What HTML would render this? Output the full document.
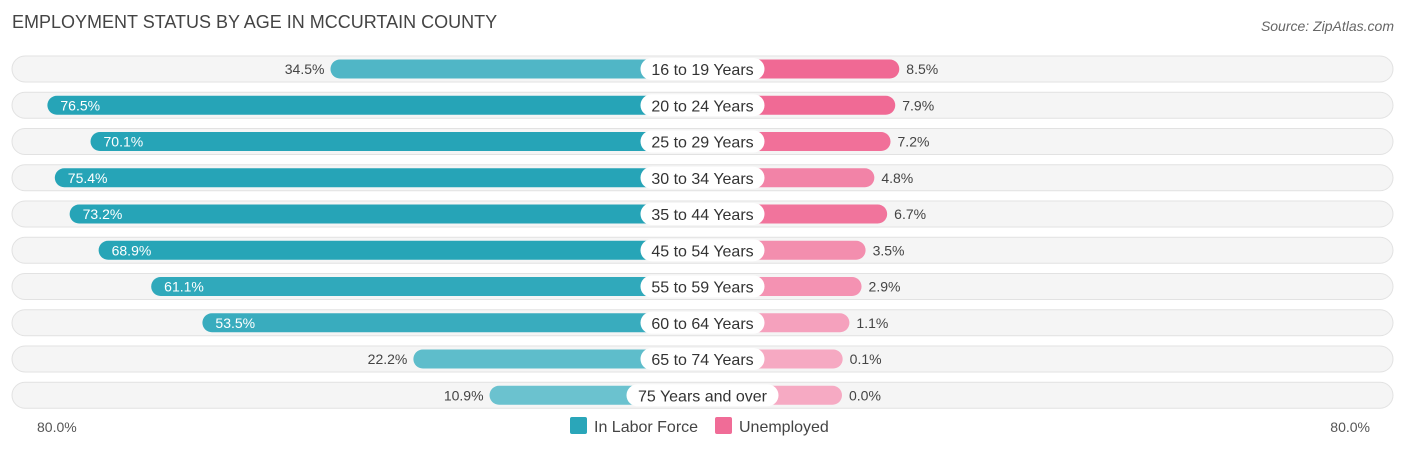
<!DOCTYPE html>
<html><head><meta charset="utf-8"><style>
body{margin:0;background:#fff;font-family:"Liberation Sans",sans-serif;}
svg text{font-family:"Liberation Sans",sans-serif;}
</style></head><body>
<svg width="1406" height="451">
<text x="12" y="28" font-size="18" fill="#444">EMPLOYMENT STATUS BY AGE IN MCCURTAIN COUNTY</text>
<text x="1394" y="31" font-size="14" fill="#666" font-style="italic" text-anchor="end">Source: ZipAtlas.com</text>
<g id="rows"></g>
<text x="37" y="432" font-size="14" fill="#555">80.0%</text>
<text x="1370" y="432" font-size="14" fill="#555" text-anchor="end">80.0%</text>
<g>
<rect x="570" y="417" width="17" height="17" rx="2" fill="#2aa6b9"/>
<text x="594" y="432" font-size="16" fill="#444">In Labor Force</text>
<rect x="715" y="417" width="17" height="17" rx="2" fill="#f06c97"/>
<text x="739" y="432" font-size="16" fill="#444">Unemployed</text>
</g>
</svg>
<script>
const categories=["16 to 19 Years","20 to 24 Years","25 to 29 Years","30 to 34 Years","35 to 44 Years","45 to 54 Years","55 to 59 Years","60 to 64 Years","65 to 74 Years","75 Years and over"];
const laborForce=[34.5,76.5,70.1,75.4,73.2,68.9,61.1,53.5,22.2,10.9];
const unemployed=[8.5,7.9,7.2,4.8,6.7,3.5,2.9,1.1,0.1,0.0];
const NS="http://www.w3.org/2000/svg";
const g=document.getElementById('rows');
const scale=6.74, leftOrigin=563, rightOrigin=842, center=702.5;
function yRow(i){return 69+i*36.25;}
function xLeft(v){return leftOrigin-v*scale;}
function xRight(v){return rightOrigin+v*scale;}
function mix(a,b,t){return 'rgb('+a.map((c,k)=>Math.round(c+(b[k]-c)*t)).join(',')+')';}
function mk(tag,attrs){const e=document.createElementNS(NS,tag);for(const k in attrs)e.setAttribute(k,attrs[k]);g.appendChild(e);return e;}
categories.forEach((c,i)=>{
  const y=yRow(i);
  const bg=mk('rect',{x:12,y:y-13,width:1381,height:26,rx:13,fill:'#f5f5f5',stroke:'#e2e2e2'});
  
  
  const lv=laborForce[i], uv=unemployed[i];
  const lx=xLeft(lv);
  const lb=mk('rect',{x:lx,y:y-9.5,width:center-lx,height:19,rx:9.5,fill:mix([120,200,212],[38,164,183],Math.min(1,lv/70))});
  
  
  const rx=xRight(uv);
  const rb=mk('rect',{x:center,y:y-9.5,width:rx-center,height:19,rx:9.5,fill:mix([246,170,195],[240,105,148],Math.min(1,uv/8))});
  
  
  const inside=lv>40;
  const lt=mk('text',{x:inside?lx+13:lx-6,y:y+5,'font-size':14,fill:inside?'#fff':'#444','text-anchor':inside?'start':'end'});
  lt.textContent=lv.toFixed(1)+'%';
  
  
  const rt=mk('text',{x:rx+7,y:y+5,'font-size':14,fill:'#444'});
  rt.textContent=uv.toFixed(1)+'%';
  
  
  const w=c.length>14?152:124;
  const pill=mk('rect',{x:center-w/2,y:y-11,width:w,height:22,rx:11,fill:'#fff'});
  
  
  const ct=mk('text',{x:center,y:y+6,'font-size':16,fill:'#333','text-anchor':'middle'});
  ct.textContent=c;
  
  
});
</script>
</body></html>
